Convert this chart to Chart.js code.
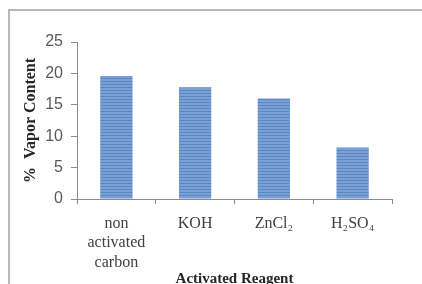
<!DOCTYPE html>
<html>
<head>
<meta charset="utf-8">
<script src="https://cdn.jsdelivr.net/npm/chart.js@4"></script>
<style>
html,body{margin:0;padding:0;background:#fff;overflow:hidden;}
#c{display:block;}
</style>
</head>
<body>
<canvas id="c" width="422" height="284"></canvas>
<script>
const categories = [["non","activated","carbon"], "KOH", "ZnCl₂", "H₂SO₄"];
const vaporContent = [19.6, 17.8, 16.0, 8.2];
const yMin = 0, yMax = 25, yStep = 5;
const yTitle = "%  Vapor Content";
const xTitle = "Activated Reagent";

function stripes(){
  const p = document.createElement('canvas');
  p.width = 4; p.height = 3;
  const g = p.getContext('2d');
  g.fillStyle = '#7aa0d6'; g.fillRect(0,0,4,3);
  g.fillStyle = '#5b87c4'; g.fillRect(0,0,4,1);
  return g.createPattern(p,'repeat');
}
const pat = stripes();

const framePlugin = {
  id: 'frame',
  beforeDraw(chart){
    const ctx = chart.ctx;
    ctx.save();
    ctx.fillStyle = '#b8b8b8';
    ctx.fillRect(8, 9, 422 - 8, 2);
    ctx.fillRect(8, 9, 2, 284 - 9);
    ctx.restore();
  }
};

new Chart(document.getElementById('c'), {
  type: 'bar',
  data: {
    labels: categories,
    datasets: [{ data: vaporContent, backgroundColor: pat, borderWidth: 0,
      barPercentage: 0.41, categoryPercentage: 1.0 }]
  },
  plugins: [framePlugin],
  options: {
    responsive: false, animation: false, devicePixelRatio: 1,
    layout: { padding: { left: 21, top: 42, right: 30, bottom: 0 } },
    plugins: { legend: { display: false }, tooltip: { enabled: false } },
    scales: {
      y: {
        min: yMin, max: yMax,
        afterFit: s => { s.width = 56; },
        ticks: { stepSize: yStep, padding: 8, color: '#595959',
          font: { family: 'Liberation Sans', size: 16 } },
        grid: { drawOnChartArea: false, tickLength: 6, color: '#8c8c8c' },
        border: { color: '#8c8c8c' },
        title: { display: true, text: yTitle, color: '#262626', padding: 0,
          font: { family: 'Liberation Serif', size: 16, weight: 'bold' } }
      },
      x: {
        afterFit: s => { s.height = 85; },
        ticks: { padding: 10, color: '#404040', maxRotation: 0, autoSkip: false,
          font: { family: 'Liberation Serif', size: 16, lineHeight: 1.22 } },
        grid: { drawOnChartArea: false, offset: true, tickLength: 5, color: '#8c8c8c' },
        border: { color: '#8c8c8c' },
        title: { display: true, text: xTitle, color: '#262626', padding: { top: 0, bottom: -4 },
          font: { family: 'Liberation Serif', size: 15, weight: 'bold' } }
      }
    }
  }
});
</script>
</body>
</html>
